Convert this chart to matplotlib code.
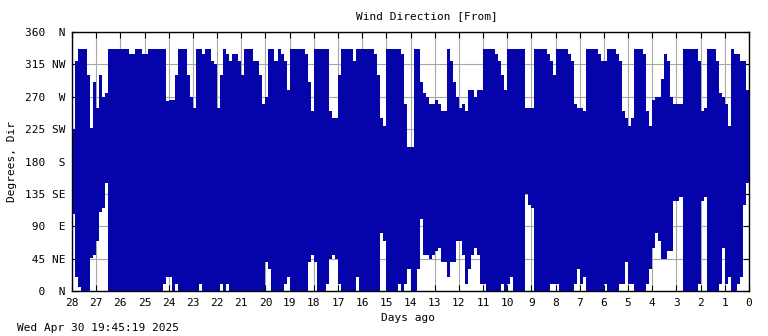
import matplotlib
matplotlib.use("Agg")
import matplotlib.pyplot as plt
import numpy as np

# wind direction in 3-hour windows, oldest first.
# one row per day (28 days ago -> today), 8 windows per row.
# lo / hi = lowest and highest direction seen in that window, degrees
dir_lo = [
    [107, 20, 5, 0, 0, 0, 46, 50],           # 28 -> 27
    [70, 110, 115, 150, 0, 0, 0, 0],         # 27 -> 26
    [0, 0, 0, 0, 0, 0, 0, 0],                # 26 -> 25
    [0, 0, 0, 0, 0, 0, 10, 20],              # 25 -> 24
    [20, 0, 10, 0, 0, 0, 0, 0],              # 24 -> 23
    [0, 0, 10, 0, 0, 0, 0, 0],               # 23 -> 22
    [0, 10, 0, 10, 0, 0, 0, 0],              # 22 -> 21
    [0, 0, 0, 0, 0, 0, 0, 0],                # 21 -> 20
    [40, 30, 0, 0, 0, 0, 10, 20],            # 20 -> 19
    [0, 0, 0, 0, 0, 0, 40, 50],              # 19 -> 18
    [40, 0, 0, 0, 10, 45, 50, 45],           # 18 -> 17
    [10, 0, 0, 0, 0, 0, 20, 0],              # 17 -> 16
    [0, 0, 0, 0, 0, 0, 80, 70],              # 16 -> 15
    [0, 0, 0, 0, 10, 0, 10, 30],             # 15 -> 14
    [0, 0, 30, 100, 50, 50, 45, 50],         # 14 -> 13
    [55, 60, 40, 40, 20, 40, 40, 70],        # 13 -> 12
    [70, 50, 10, 30, 50, 60, 50, 10],        # 12 -> 11
    [10, 0, 0, 0, 0, 0, 10, 0],              # 11 -> 10
    [10, 20, 0, 0, 0, 0, 135, 120],          # 10 -> 9
    [115, 0, 0, 0, 0, 0, 10, 10],            # 9 -> 8
    [10, 0, 0, 0, 0, 0, 10, 30],             # 8 -> 7
    [10, 20, 0, 0, 0, 0, 0, 0],              # 7 -> 6
    [10, 0, 0, 0, 0, 10, 10, 40],            # 6 -> 5
    [10, 10, 0, 0, 0, 0, 10, 30],            # 5 -> 4
    [60, 80, 70, 45, 45, 55, 55, 125],       # 4 -> 3
    [125, 130, 0, 0, 0, 0, 0, 10],           # 3 -> 2
    [125, 130, 0, 0, 0, 0, 10, 60],          # 2 -> 1
    [10, 20, 0, 0, 10, 20, 120, 150],        # 1 -> 0
]
dir_hi = [
    [225, 320, 337, 337, 337, 300, 227, 290],
    [255, 300, 270, 275, 337, 337, 337, 337],
    [337, 337, 337, 330, 330, 337, 337, 330],
    [330, 337, 337, 337, 337, 337, 337, 264],
    [265, 265, 300, 337, 337, 337, 300, 270],
    [255, 337, 337, 330, 337, 337, 320, 315],
    [255, 300, 337, 330, 320, 330, 330, 320],
    [300, 337, 337, 337, 320, 320, 300, 260],
    [270, 337, 337, 320, 337, 330, 320, 280],
    [337, 337, 337, 337, 337, 330, 290, 250],
    [337, 337, 337, 337, 337, 250, 240, 240],
    [300, 337, 337, 337, 337, 320, 337, 337],
    [337, 337, 337, 337, 330, 300, 240, 230],
    [337, 337, 337, 337, 337, 330, 260, 200],
    [200, 337, 337, 290, 275, 270, 260, 260],
    [265, 260, 250, 250, 337, 320, 290, 270],
    [255, 260, 250, 280, 280, 270, 280, 280],
    [337, 337, 337, 337, 330, 320, 300, 280],
    [337, 337, 337, 337, 337, 337, 255, 255],
    [255, 337, 337, 337, 337, 330, 320, 300],
    [337, 337, 337, 337, 330, 320, 260, 255],
    [255, 250, 337, 337, 337, 337, 330, 320],
    [320, 337, 337, 337, 330, 320, 250, 240],
    [230, 240, 337, 337, 337, 330, 250, 230],
    [265, 270, 270, 295, 330, 320, 270, 260],
    [260, 260, 337, 337, 337, 337, 337, 320],
    [250, 255, 337, 337, 337, 320, 275, 270],
    [260, 230, 337, 330, 330, 320, 320, 280],
]

ytick_vals = [0, 45, 90, 135, 180, 225, 270, 315, 360]
ytick_dirs = ["N", "NE", "E", "SE", "S", "SW", "W", "NW", "N"]
xtick_vals = list(range(28, -1, -1))

lo = np.array(dir_lo).ravel()
hi = np.array(dir_hi).ravel()
step = 1 / 8
days_ago = 28 - step * (np.arange(len(lo)) + 0.5)

mono = "DejaVu Sans Mono"
fs = 8

fig = plt.figure(figsize=(7.68, 3.36), dpi=100)
ax = fig.add_axes([72 / 768, 45 / 336, 677 / 768, 259 / 336])

ax.bar(days_ago, hi - lo, bottom=lo, width=step, color="#0404aa",
       linewidth=0, zorder=2)

ax.set_xlim(28, 0)
ax.set_ylim(0, 360)
ax.set_xticks(xtick_vals)
ax.set_xticklabels([str(x) for x in xtick_vals], fontfamily=mono, fontsize=fs)
ax.set_yticks(ytick_vals)
ax.set_yticklabels([f"{a:>3} {d:>2}" for a, d in zip(ytick_vals, ytick_dirs)],
                   fontfamily=mono, fontsize=fs)
ax.tick_params(direction="in", length=4, width=0.8, top=True, right=True,
               pad=5, colors="black")
ax.grid(True, color="#a8a8a8", linewidth=0.8, zorder=1)
ax.set_axisbelow(True)
for s in ax.spines.values():
    s.set_linewidth(1.0)
    s.set_zorder(3)

fig.text(427 / 768, 1 - 16 / 336, "Wind Direction [From]", ha="center",
         va="center", fontfamily=mono, fontsize=fs)
fig.text(408 / 768, 1 - 318 / 336, "Days ago", ha="center", va="center",
         fontfamily=mono, fontsize=fs)
fig.text(12 / 768, 1 - 161 / 336, "Degrees, Dir", ha="center", va="center",
         rotation=90, fontfamily=mono, fontsize=fs)
fig.text(17 / 768, 1 - 328 / 336, "Wed Apr 30 19:45:19 2025", ha="left",
         va="center", fontfamily=mono, fontsize=fs)

fig.savefig("out.png", dpi=100)
